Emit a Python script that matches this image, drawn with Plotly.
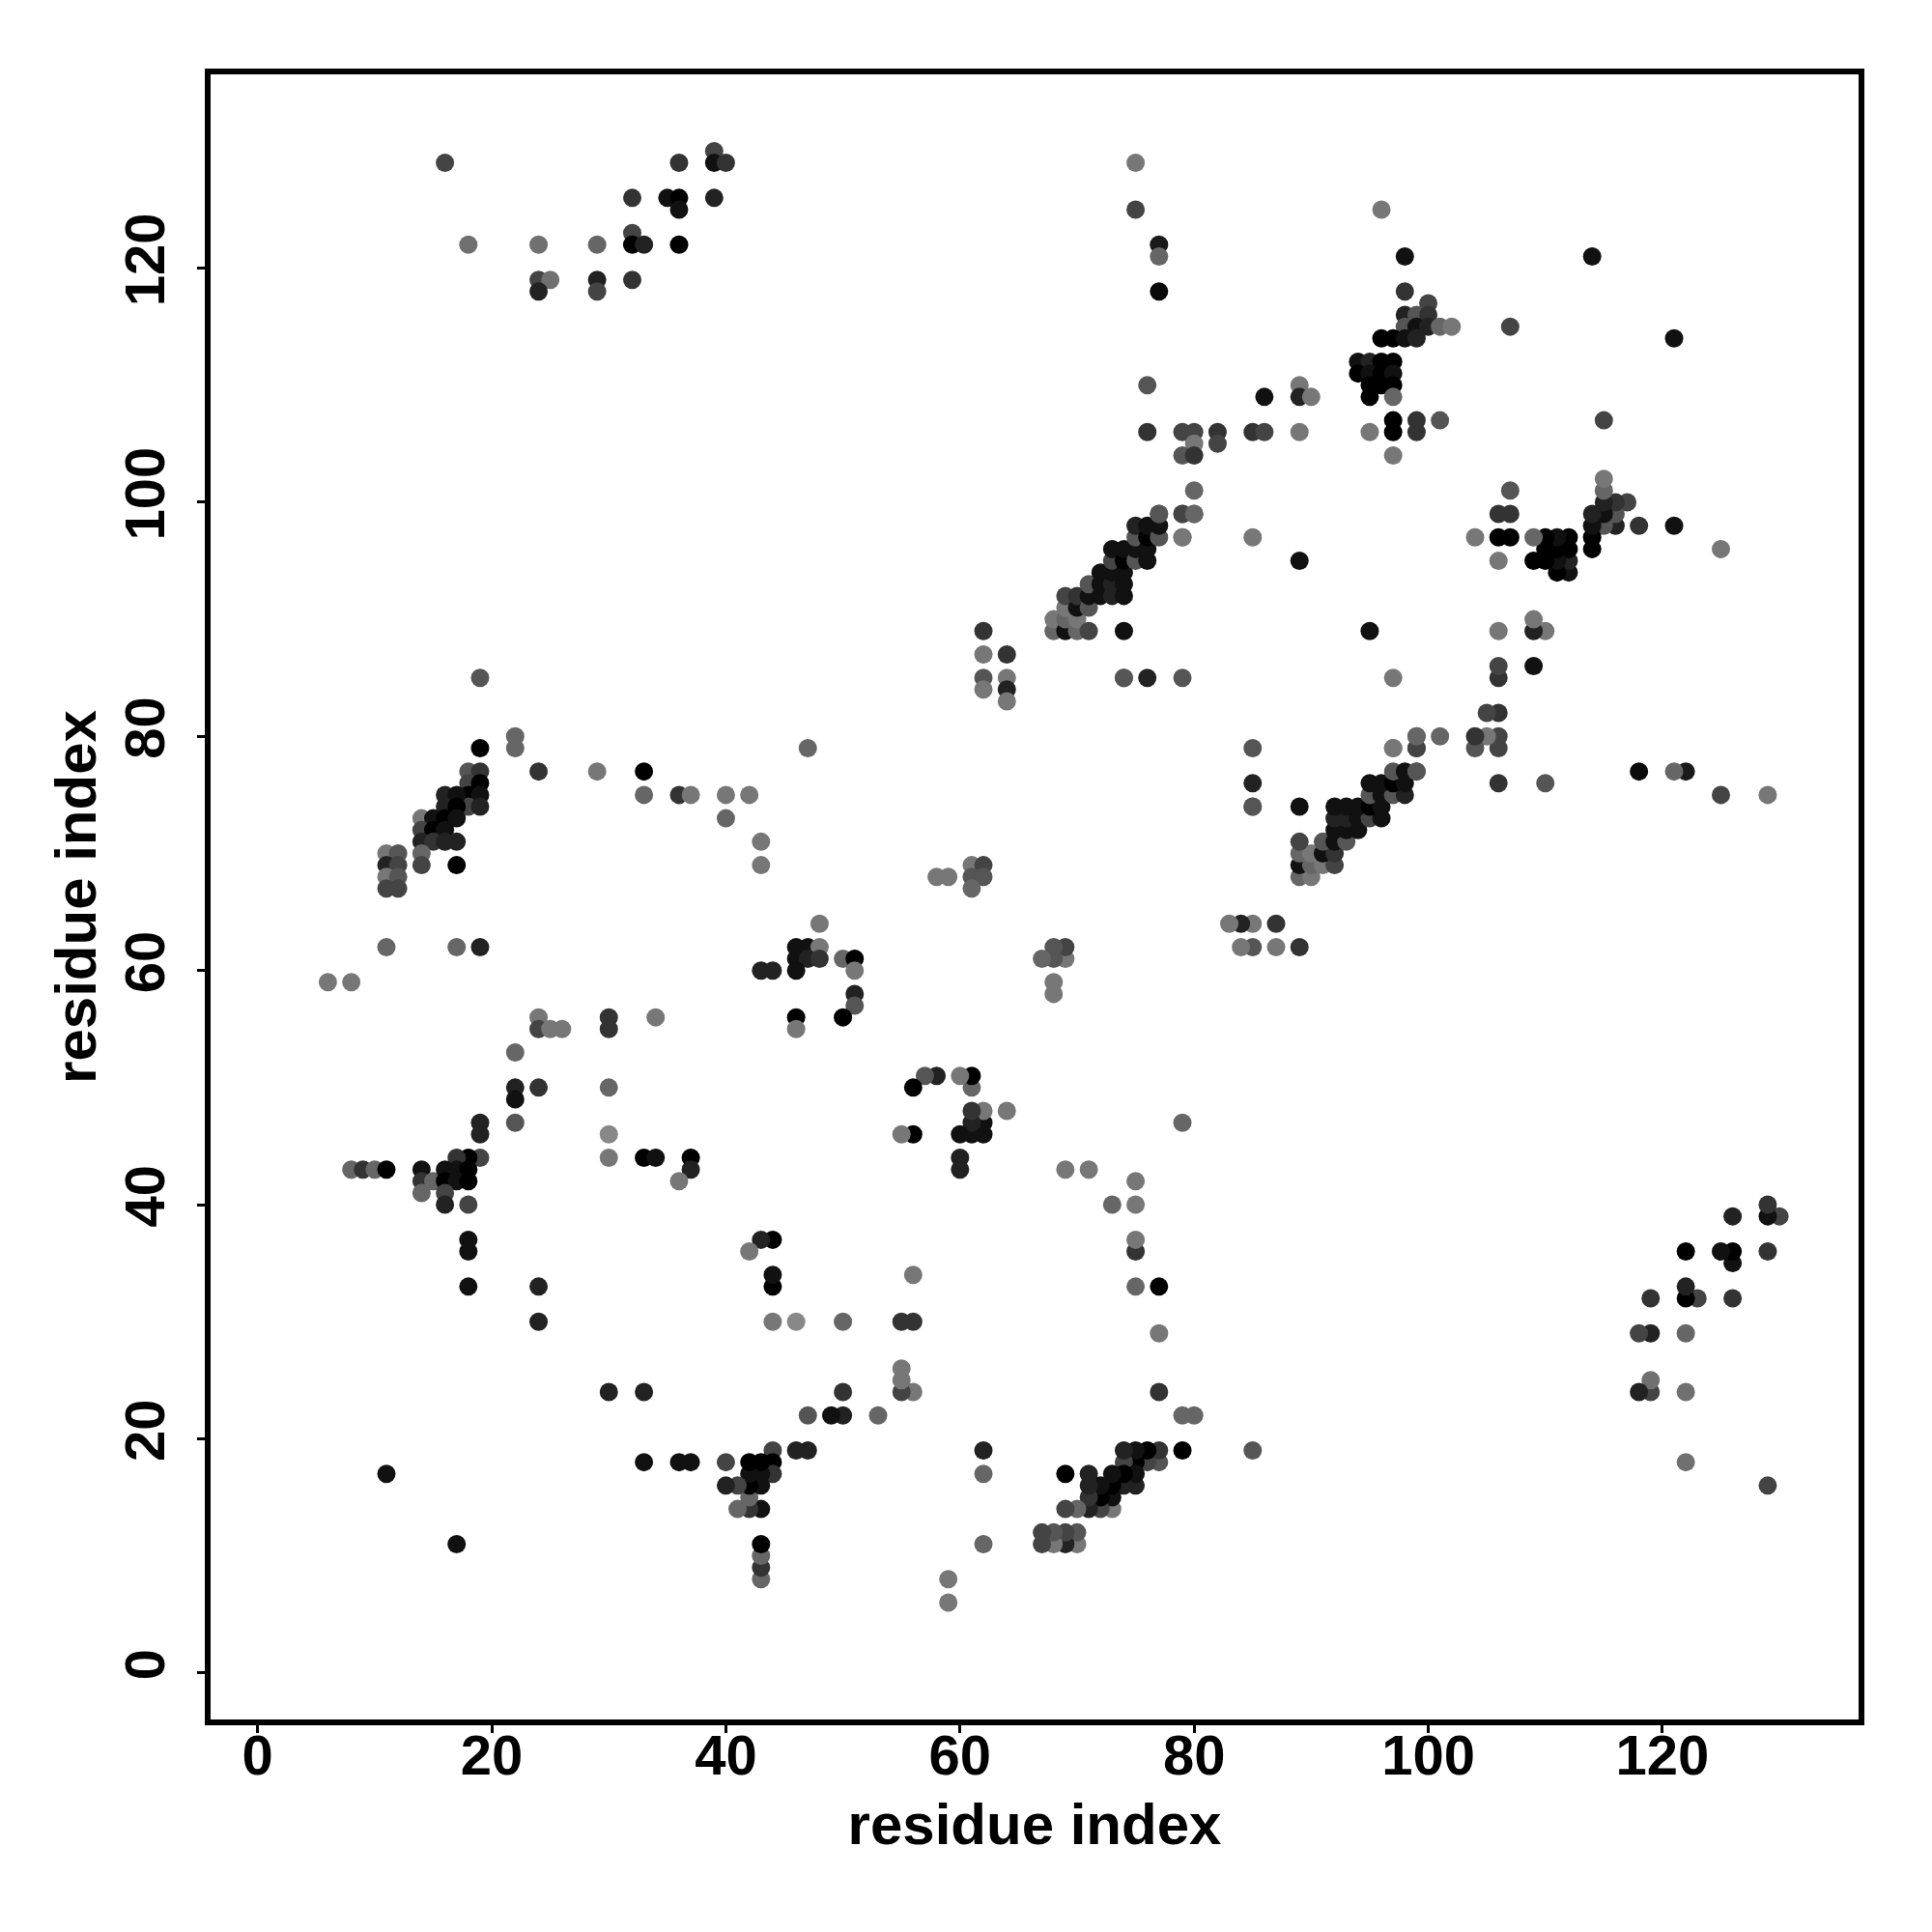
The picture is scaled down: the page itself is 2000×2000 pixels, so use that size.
import plotly.graph_objects as go

# Contact pairs (residue i < residue j) read from the upper triangle of the map,
# with the grey level (0 = black, 255 = white) of each dot.
res_i = [
    16, 18, 24, 29, 24, 25, 24, 29, 29, 36, 39, 39, 40, 32, 35, 36, 36, 39, 32, 32, 33, 36, 32,
    75, 75, 77, 77, 77, 96, 98, 98, 100, 98, 99, 100, 98, 99, 100, 101, 102,
    96, 97, 98, 99, 94, 95, 96, 97, 94, 95, 96, 97, 95, 96, 97, 95, 97,
    97, 99, 101, 95, 97, 99, 97,
    76, 76, 79, 80, 82, 80, 82, 79, 80, 80, 85, 86, 86, 89, 89, 90, 89,
    114, 107,
    19, 22, 22, 19, 24, 29, 18, 19, 18, 19, 18, 19, 18, 19, 16, 17, 16, 17,
    14, 15, 16, 17, 14, 15, 16, 14, 15, 16, 17, 14, 14, 17,
    11, 12, 11, 12, 11, 12, 11, 12,
    62, 62, 64, 62, 62, 64, 64, 64,
    47, 33, 33, 36, 37, 40, 42, 40, 43, 43,
    58, 59, 61, 62, 61, 62, 61,
    68, 68, 69, 69, 69, 69, 70, 70, 70, 70, 71, 71, 71, 71,
    72, 72, 72, 73, 73, 73, 73, 73, 74, 74, 74, 74, 74, 74, 74,
    75, 75, 75, 75, 76, 76, 76, 76, 77, 77, 77, 79, 79, 80,
    77, 79, 80, 79, 85, 89, 74, 76, 79,
    11, 17, 19, 6, 8,
    24, 24, 25, 26, 30, 30,
    22, 22, 22, 22, 24, 30, 30, 30,
    19, 19, 19, 18, 17,
    8, 9, 10, 11,
    14, 14, 15, 14,
    16, 17, 18, 16, 17, 18, 16, 16, 18,
    18, 18, 18, 24, 24,
    48, 46, 47, 48, 46, 47, 48, 50, 51,
    46, 43, 44, 51, 51, 51, 46, 46, 50, 34,
    33, 34, 37, 37, 36,
    11,
]
res_j = [
    129, 122, 122, 122, 119, 119, 118, 119, 118, 129, 130, 129, 129, 126, 126, 126, 125, 126, 123, 122, 122, 122, 119,
    129, 125, 122, 121, 118, 125, 121, 118, 117, 116, 116, 116, 115, 115, 115, 115, 115,
    114, 114, 114, 114, 112, 112, 112, 112, 111, 111, 111, 111, 110, 110, 110, 109, 109,
    107, 107, 107, 106, 106, 106, 104,
    110, 106, 106, 106, 106, 105, 105, 104, 104, 101, 106, 106, 109, 110, 109, 109, 106,
    121, 115,
    85, 80, 79, 79, 77, 77, 77, 77, 76, 76, 75, 75, 74, 74, 75, 75, 74, 74,
    73, 73, 73, 73, 72, 72, 72, 71, 71, 71, 71, 70, 69, 69,
    70, 70, 69, 69, 68, 68, 67, 67,
    89, 87, 87, 85, 84, 85, 84, 83,
    79, 77, 75, 75, 75, 75, 75, 73, 71, 69,
    68, 68, 69, 69, 68, 68, 67,
    89, 90, 89, 90, 91, 92, 89, 90, 91, 92, 89, 91, 92, 93,
    92, 93, 94, 92, 93, 94, 95, 96, 89, 92, 93, 94, 95, 96, 85,
    95, 96, 97, 98, 95, 96, 97, 98, 97, 98, 99, 97, 99, 99,
    99, 99, 99, 97, 97, 95, 85, 85, 85,
    62, 62, 62, 59, 59,
    56, 55, 55, 55, 56, 55,
    53, 50, 49, 47, 50, 50, 46, 44,
    47, 46, 44, 44, 44,
    43, 43, 43, 43,
    43, 42, 42, 41,
    43, 43, 43, 42, 42, 42, 41, 40, 40,
    37, 36, 33, 33, 30,
    64, 62, 62, 62, 61, 61, 61, 61, 61,
    60, 60, 60, 60, 58, 57, 56, 55, 56, 56,
    44, 44, 44, 43, 42,
    17,
]
grey = [
    0x44, 0x70, 0x70, 0x66, 0x44, 0x70, 0x22, 0x22, 0x44, 0x33, 0x44, 0x11, 0x33, 0x33, 0x11, 0x00, 0x11, 0x22, 0x44, 0x00, 0x22, 0x00, 0x33,
    0x77, 0x44, 0x1a, 0x66, 0x0a, 0x77, 0x11, 0x33, 0x44, 0x22, 0x55, 0x33, 0x55, 0x11, 0x22, 0x66, 0x77,
    0x00, 0x00, 0x11, 0x22, 0x11, 0x22, 0x00, 0x00, 0x00, 0x11, 0x00, 0x11, 0x00, 0x00, 0x00, 0x00, 0x66,
    0x00, 0x33, 0x55, 0x77, 0x00, 0x33, 0x77,
    0x55, 0x33, 0x44, 0x44, 0x33, 0x77, 0x44, 0x55, 0x33, 0x66, 0x33, 0x44, 0x11, 0x77, 0x22, 0x77, 0x77,
    0x11, 0x44,
    0x55, 0x66, 0x66, 0x00, 0x33, 0x77, 0x55, 0x33, 0x44, 0x00, 0x00, 0x11, 0x44, 0x22, 0x22, 0x11, 0x22, 0x00,
    0x77, 0x11, 0x00, 0x11, 0x44, 0x00, 0x11, 0x22, 0x33, 0x22, 0x22, 0x66, 0x44, 0x00,
    0x77, 0x55, 0x22, 0x44, 0x77, 0x55, 0x44, 0x44,
    0x33, 0x77, 0x33, 0x55, 0x77, 0x77, 0x22, 0x77,
    0x66, 0x00, 0x66, 0x33, 0x77, 0x77, 0x77, 0x66, 0x77, 0x77,
    0x77, 0x77, 0x77, 0x44, 0x55, 0x55, 0x66,
    0x66, 0x77, 0x11, 0x66, 0x77, 0x44, 0x66, 0x77, 0x11, 0x33, 0x44, 0x55, 0x11, 0x55,
    0x11, 0x11, 0x11, 0x22, 0x22, 0x11, 0x44, 0x11, 0x11, 0x11, 0x11, 0x11, 0x00, 0x11, 0x55,
    0x55, 0x11, 0x55, 0x22, 0x11, 0x11, 0x00, 0x11, 0x55, 0x11, 0x55, 0x77, 0x44, 0x66,
    0x55, 0x44, 0x66, 0x77, 0x77, 0x11, 0x55, 0x22, 0x55,
    0x66, 0x66, 0x22, 0x77, 0x77,
    0x77, 0x44, 0x77, 0x77, 0x33, 0x33,
    0x66, 0x22, 0x11, 0x55, 0x33, 0x66, 0x88, 0x77,
    0x22, 0x22, 0x44, 0x00, 0x33,
    0x66, 0x33, 0x66, 0x00,
    0x11, 0x33, 0x66, 0x66,
    0x11, 0x11, 0x00, 0x00, 0x11, 0x00, 0x44, 0x22, 0x44,
    0x11, 0x11, 0x11, 0x22, 0x22,
    0x77, 0x11, 0x11, 0x77, 0x11, 0x22, 0x33, 0x66, 0x00,
    0x11, 0x22, 0x22, 0x77, 0x22, 0x55, 0x00, 0x77, 0x00, 0x77,
    0x00, 0x11, 0x00, 0x22, 0x77,
    0x11,
]

tick_vals = [0, 20, 40, 60, 80, 100, 120]
axis_title = "residue index"

# a contact map is symmetric: each pair (i, j) is drawn at (i, j) and at (j, i)
xs = res_i + res_j
ys = res_j + res_i
cols = [f"rgb({g},{g},{g})" for g in grey] * 2

fig = go.Figure(
    go.Scatter(
        x=xs, y=ys, mode="markers",
        marker=dict(size=19, color=cols, line=dict(width=0)),
        hoverinfo="skip",
    )
)

font_family = "Liberation Sans, Arial, Helvetica, sans-serif"
common = dict(
    tickvals=tick_vals,
    ticks="outside", ticklen=8, tickwidth=3, tickcolor="black",
    showline=True, linewidth=6, linecolor="black", mirror=True,
    showgrid=False, zeroline=False,
    tickfont=dict(family=font_family, size=58, color="black", weight="bold"),
)

fig.update_layout(
    width=2000, height=2000,
    margin=dict(l=210, r=84, t=69, b=228),
    paper_bgcolor="white", plot_bgcolor="white",
    showlegend=False,
    xaxis=dict(
        range=[-4.02, 136.76], **common, ticklabelstandoff=-27,
        title=dict(text=axis_title, standoff=21,
                   font=dict(family=font_family, size=60, color="black", weight="bold")),
    ),
    yaxis=dict(
        range=[-3.98, 136.55], **common, tickangle=-90, ticklabelstandoff=11,
        title=dict(text=axis_title, standoff=0,
                   font=dict(family=font_family, size=60, color="black", weight="bold")),
    ),
)

fig.write_html("out.html")
